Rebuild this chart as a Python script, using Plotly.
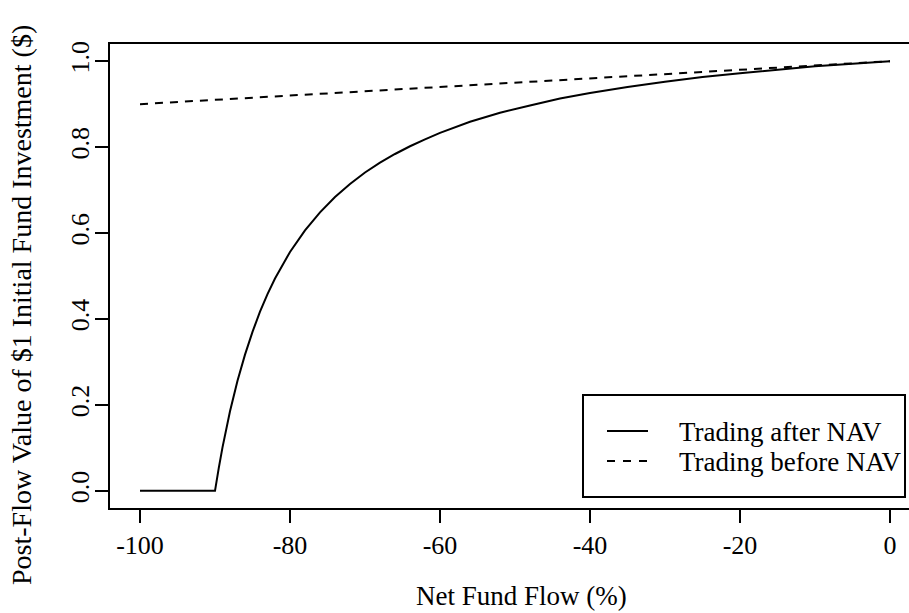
import plotly.graph_objects as go

# ---- data ----
flow_after = [-100, -90, -89.5, -89, -88, -87, -86, -85, -84, -83, -82, -80, -78, -76, -74,
              -72, -70, -68, -66, -64, -62, -60, -56, -52, -48, -44, -40, -35, -30,
              -25, -20, -15, -10, -5, 0]
value_after = [0.0, 0.0, 0.053, 0.101, 0.185, 0.256, 0.317, 0.370, 0.417, 0.458, 0.494,
               0.556, 0.606, 0.648, 0.684, 0.714, 0.741, 0.764, 0.784, 0.802, 0.818,
               0.833, 0.859, 0.880, 0.897, 0.913, 0.926, 0.940, 0.952, 0.963, 0.972,
               0.980, 0.988, 0.994, 1.0]
flow_before = [-100, 0]
value_before = [0.90, 1.0]

x_ticks = [-100, -80, -60, -40, -20, 0]
x_tick_labels = ["-100", "-80", "-60", "-40", "-20", "0"]
y_ticks = [0.0, 0.2, 0.4, 0.6, 0.8, 1.0]
y_tick_labels = ["0.0", "0.2", "0.4", "0.6", "0.8", "1.0"]
legend_names = ["Trading after NAV", "Trading before NAV"]
x_title = "Net Fund Flow (%)"
y_title = "Post-Flow Value of $1 Initial Fund Investment ($)"

FONT = "Liberation Serif, Times New Roman, serif"
W, H = 909, 613
L, R, T, B = 110, 0, 44, 105

fig = go.Figure()
fig.add_trace(go.Scatter(x=flow_after, y=value_after, mode="lines",
                         line=dict(color="black", width=2), name=legend_names[0],
                         showlegend=False))
fig.add_trace(go.Scatter(x=flow_before, y=value_before, mode="lines",
                         line=dict(color="black", width=2, dash="8px,7px"),
                         name=legend_names[1], showlegend=False))

def px(xp):
    return (xp - L) / (W - L - R)

def py(yp):
    return (H - B - yp) / (H - T - B)

# manual legend (R style)
shapes = [
    dict(type="rect", xref="paper", yref="paper", x0=px(583), x1=px(905), y0=py(497), y1=py(395),
         line=dict(color="black", width=2), fillcolor="white", layer="above"),
    dict(type="line", xref="paper", yref="paper", x0=px(607), x1=px(648), y0=py(431), y1=py(431),
         line=dict(color="black", width=2), layer="above"),
    dict(type="line", xref="paper", yref="paper", x0=px(607), x1=px(648), y0=py(461), y1=py(461),
         line=dict(color="black", width=2, dash="8px,8px"), layer="above"),
]
annotations = [
    dict(text=legend_names[0], xref="paper", yref="paper", x=px(677), y=py(432),
         xanchor="left", yanchor="middle", showarrow=False,
         font=dict(family=FONT, size=27, color="black")),
    dict(text=legend_names[1], xref="paper", yref="paper", x=px(677), y=py(462),
         xanchor="left", yanchor="middle", showarrow=False,
         font=dict(family=FONT, size=27, color="black")),
    dict(text=x_title, xref="paper", yref="paper", x=px(521), y=py(596),
         xanchor="center", yanchor="middle", showarrow=False,
         font=dict(family=FONT, size=27, color="black")),
    dict(text=y_title, xref="paper", yref="paper", x=px(21), y=py(305),
         xanchor="center", yanchor="middle", showarrow=False, textangle=-90,
         font=dict(family=FONT, size=28, color="black")),
]

fig.update_layout(
    width=W, height=H,
    margin=dict(l=L, r=R, t=T, b=B, pad=0),
    paper_bgcolor="white", plot_bgcolor="white",
    font=dict(family=FONT, size=26, color="black"),
    shapes=shapes, annotations=annotations,
    xaxis=dict(range=[-104, 2.533], tickvals=x_ticks, ticktext=x_tick_labels,
               ticks="outside", ticklen=13,
               tickwidth=2, tickcolor="black", showline=True, linecolor="black",
               linewidth=2, mirror=True, showgrid=False, zeroline=False),
    yaxis=dict(range=[-0.04, 1.04], tickvals=y_ticks, ticktext=y_tick_labels,
               tickangle=-90, ticks="outside", ticklen=13, tickwidth=2,
               tickcolor="black", showline=True, linecolor="black", linewidth=2,
               showgrid=False, zeroline=False, ticklabelstandoff=-4),
)

fig.write_html("out.html")
